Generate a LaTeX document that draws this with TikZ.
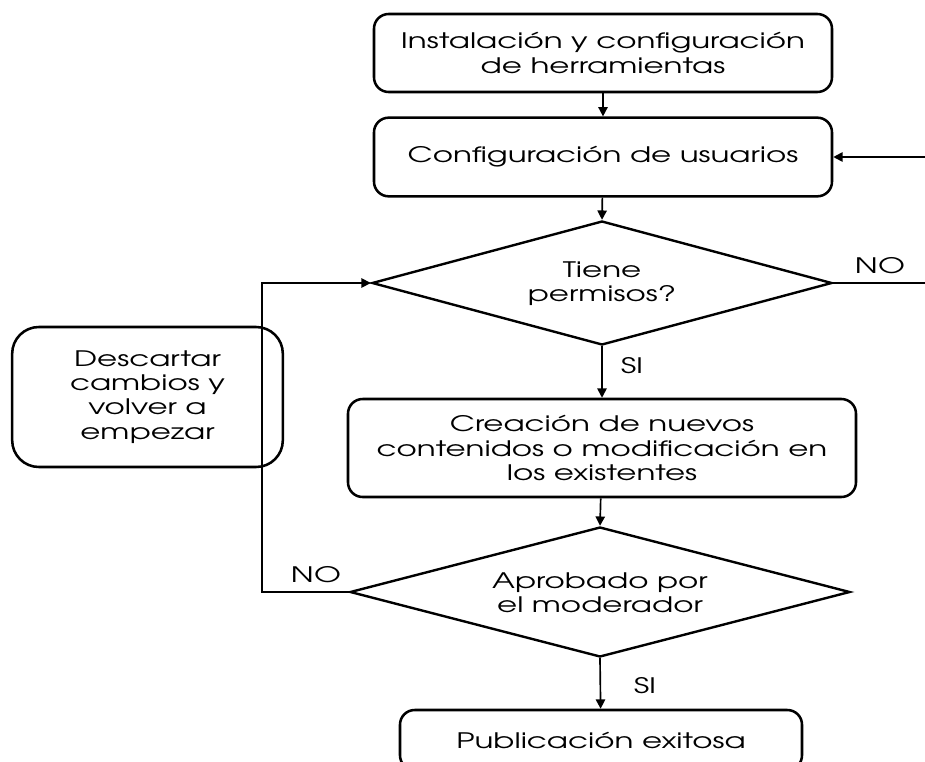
\documentclass[tikz,border=0pt]{standalone}
\usepackage{fontspec}
\setmainfont{TeX Gyre Adventor}[FakeStretch=1.45]
\usetikzlibrary{shapes.geometric,arrows.meta}
\tikzset{
  box/.style={draw, line width=1.9pt, rounded corners=11pt, align=center, inner sep=0pt},
  dec/.style={draw, diamond, line width=1.8pt, inner sep=0pt},
  con/.style={line width=1.25pt},
  arr/.style={con, -{Triangle[length=7pt,width=7pt]}},
  lab/.style={inner sep=0pt, align=center}
}
\begin{document}
\begin{tikzpicture}[x=0.75pt, y=-0.75pt, font=\fontsize{16pt}{18.2pt}\selectfont]
\useasboundingbox (0,0) rectangle (925,761);
\node[box, minimum width=343.5pt, minimum height=58.5pt] (b1) at (603,53) {Instalación y configuración\\de herramientas};
\node[box, minimum width=343.5pt, minimum height=59pt] (b2) at (603,157) {Configuración de usuarios};
\node[dec, minimum width=345pt, minimum height=93pt] (d1) at (602,283) {};
\node[lab] (d1t) at (602,284) {Tiene\\permisos?};
\node[box, minimum width=381pt, minimum height=73.5pt] (b3) at (602,448) {Creación de nuevos\\contenidos o modificación en\\los existentes};
\node[dec, minimum width=375pt, minimum height=97.5pt] (d2) at (600,592) {};
\node[lab] (d2t) at (600,593) {Aprobado por\\el moderador};
\node[box, minimum width=301.5pt, minimum height=45pt] (b4) at (601,740) {Publicación exitosa};
\node[box, rounded corners=20pt, minimum width=203pt, minimum height=105pt] (b5) at (147.5,397) {Descartar\\cambios y\\volver a\\empezar};
\coordinate (inR) at (925,157);
\coordinate (outR) at (925,283);
\coordinate (lt) at (262,283);
\draw[arr] (b1) -- (b2);
\draw[arr] (inR) -- (b2.east);
\draw[arr] (b2) -- (d1.north);
\draw[con] (d1.east) -- (outR);
\draw[arr] (d1.south) -- (b3);
\draw[arr] (b3) -- (d2.north);
\draw[arr] (d2.south) -- (b4);
\draw[arr] (d2.west) -- (d2.west -| lt) -- (lt) -- (d1.west);
\node[lab] (no1) at (880,266) {NO};
\node[lab] (no2) at (316,575) {NO};
\node[lab] (si1) at (632,366) {SI};
\node[lab] (si2) at (645,686) {SI};
\end{tikzpicture}
\end{document}
